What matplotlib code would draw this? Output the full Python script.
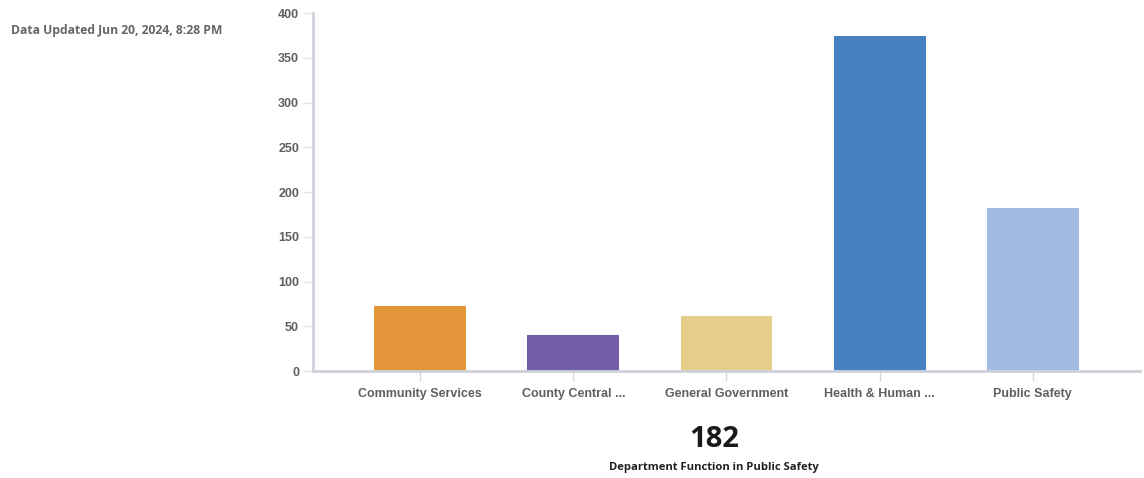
import matplotlib
matplotlib.use("Agg")
import matplotlib.pyplot as plt

categories = ["Community Services", "County Central ...", "General Government",
              "Health & Human ...", "Public Safety"]
values = [73, 40, 62, 374, 182]
colors = ["#E4953A", "#715DA8", "#E7CD8A", "#4781C0", "#A3BBE3"]
y_ticks = [0, 50, 100, 150, 200, 250, 300, 350, 400]

highlight_value = "182"
highlight_label = "Department Function in Public Safety"
updated_text = "Data Updated Jun 20, 2024, 8:28 PM"

axis_color = "#CDD1D8"
label_color = "#5F5F5F"

fig = plt.figure(figsize=(11.44, 4.78), dpi=100)
ax = fig.add_axes([0.2736, 0.2238, 0.7229, 0.7490])

x = list(range(len(categories)))
ax.bar(x, values, width=0.6, color=colors, zorder=2)

ax.set_xlim(-0.7, len(categories) - 0.3)
ax.set_ylim(0, 400)
ax.set_yticks(y_ticks)
ax.set_xticks(x)
ax.set_xticklabels(categories)

for side in ["top", "right"]:
    ax.spines[side].set_visible(False)
for side in ["left", "bottom"]:
    ax.spines[side].set_color(axis_color)
    ax.spines[side].set_linewidth(2)

ax.tick_params(axis="y", length=7, width=1, color="#E3E5E9", pad=3,
               labelsize=9, labelcolor=label_color)
ax.tick_params(axis="x", length=7, width=1, color="#D5D8DD", pad=5,
               labelsize=9, labelcolor=label_color)
for lbl in ax.get_xticklabels() + ax.get_yticklabels():
    lbl.set_fontfamily("Liberation Sans")
    lbl.set_fontweight("bold")

fig.text(0.0096, 0.937, updated_text, fontsize=8.7, color="#666666",
         fontweight="bold", family="Open Sans", ha="left", va="center")
fig.text(0.624, 0.080, highlight_value, fontsize=21, color="#1A1A1A",
         fontweight="bold", family="Open Sans", ha="center", va="center")
fig.text(0.624, 0.023, highlight_label, fontsize=8.1, color="#222222",
         fontweight="bold", family="Open Sans", ha="center", va="center")

fig.savefig("out.png", dpi=100)
